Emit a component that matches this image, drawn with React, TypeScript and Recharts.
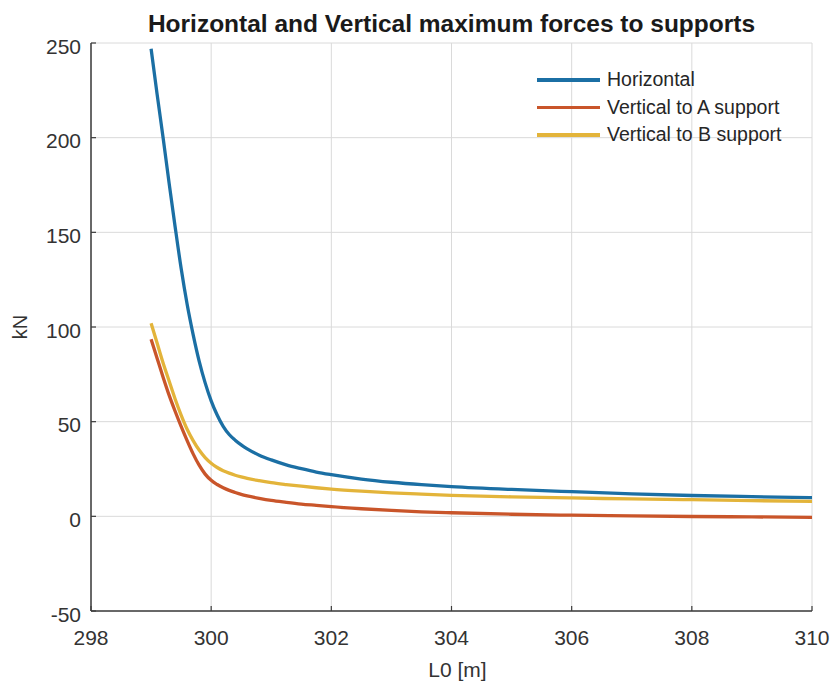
import React from 'react';
import {
  LineChart,
  Line,
  XAxis,
  YAxis,
  CartesianGrid,
  Legend,
} from 'recharts';

// L0 [m] sample positions
const L0 = [
  299.0, 299.1, 299.2, 299.3, 299.4, 299.5, 299.6, 299.7, 299.8, 299.9,
  300.0, 300.1, 300.2, 300.3, 300.4, 300.5, 300.6, 300.8, 301.0, 301.25,
  301.5, 301.75, 302.0, 302.5, 303.0, 303.5, 304.0, 305.0, 306.0, 307.0,
  308.0, 309.0, 310.0,
];

// Horizontal force [kN]
const horizontal = [
  247, 223, 200, 176, 153, 131, 112, 96, 82, 70.5,
  61, 53.5, 47.5, 43.2, 40.2, 37.7, 35.6, 32.3, 29.8, 27.2,
  25.2, 23.4, 22, 19.7, 18, 16.7, 15.7, 14.2, 13.0, 11.9,
  11.0, 10.4, 9.9,
];

// Vertical force to A support [kN]
const verticalA = [
  93.5, 83.5, 73.5, 64, 55.5, 47.5, 40, 33, 27, 22.3,
  19, 16.8, 15.1, 13.7, 12.6, 11.6, 10.8, 9.5, 8.4, 7.4,
  6.5, 5.8, 5.1, 4.0, 3.1, 2.4, 1.9, 1.1, 0.6, 0.2,
  -0.1, -0.3, -0.5,
];

// Vertical force to B support [kN]
const verticalB = [
  102, 91.5, 81, 71.5, 62, 53.5, 46, 40, 35, 31,
  28, 25.8, 24.1, 22.8, 21.7, 20.8, 20.0, 18.8, 17.8, 16.8,
  15.9, 15.1, 14.4, 13.3, 12.4, 11.7, 11.1, 10.3, 9.7, 9.2,
  8.8, 8.3, 7.9,
];

const xTicks = [298, 300, 302, 304, 306, 308, 310];
const yTicks = [-50, 0, 50, 100, 150, 200, 250];

const seriesNames = ['Horizontal', 'Vertical to A support', 'Vertical to B support'];
const seriesColors = ['#1b6fa4', '#c9552a', '#e3b43a'];

const data = L0.map((x, i) => ({
  x,
  h: horizontal[i],
  a: verticalA[i],
  b: verticalB[i],
}));

const FONT = '"Liberation Sans", Arial, Helvetica, sans-serif';
const AXIS_COLOR = '#3c3c3c';
const TEXT_COLOR = '#333333';
const TICK_LEN = 5;
const X_LABEL_GAP = 19;
const Y_LABEL_GAP = 10;

const BottomTick = (props: any) => {
  const { x, y, payload } = props;
  const axisY = y - X_LABEL_GAP;
  return (
    <g>
      <line x1={x} x2={x} y1={axisY} y2={axisY - TICK_LEN} stroke={AXIS_COLOR} strokeWidth={1.2} />
      <text
        x={x}
        y={y}
        dy="0.72em"
        textAnchor="middle"
        fill={TEXT_COLOR}
        fontSize={21}
        fontFamily={FONT}
      >
        {payload.value}
      </text>
    </g>
  );
};

const LeftTick = (props: any) => {
  const { x, y, payload } = props;
  const axisX = x + Y_LABEL_GAP;
  return (
    <g>
      <line x1={axisX} x2={axisX + TICK_LEN} y1={y} y2={y} stroke={AXIS_COLOR} strokeWidth={1.2} />
      <text
        x={x}
        y={y + 3}
        dy="0.36em"
        textAnchor="end"
        fill={TEXT_COLOR}
        fontSize={21}
        fontFamily={FONT}
      >
        {payload.value}
      </text>
    </g>
  );
};

const TopTick = (props: any) => {
  const { x, y } = props;
  return <line x1={x} x2={x} y1={y} y2={y + TICK_LEN} stroke={AXIS_COLOR} strokeWidth={1.2} />;
};

const RightTick = (props: any) => {
  const { x, y } = props;
  return <line x1={x} x2={x - TICK_LEN} y1={y} y2={y} stroke={AXIS_COLOR} strokeWidth={1.2} />;
};

const LegendContent = (props: any) => {
  const payload = props.payload || [];
  return (
    <div style={{ fontFamily: FONT, fontSize: 19.5, color: '#262626' }}>
      {payload.map((p: any) => (
        <div
          key={p.value}
          style={{ display: 'flex', alignItems: 'center', height: 27.5, whiteSpace: 'nowrap' }}
        >
          <div style={{ width: 63, height: 3.5, background: p.color, marginRight: 7 }} />
          <span>{p.value}</span>
        </div>
      ))}
    </div>
  );
};

export default function App() {
  return (
    <div style={{ position: 'relative', width: 831, height: 684, background: '#fff' }}>
      <style>{`body{margin:0;background:#fff}`}</style>
      <div
        style={{
          position: 'absolute',
          left: 91,
          width: 721,
          top: 9,
          textAlign: 'center',
          fontFamily: FONT,
          fontWeight: 'bold',
          fontSize: 24.5,
          lineHeight: '30px',
          color: '#1a1a1a',
          whiteSpace: 'nowrap',
        }}
      >
        Horizontal and Vertical maximum forces to supports
      </div>
      <LineChart
        width={831}
        height={684}
        data={data}
        margin={{ top: 43, right: 19, bottom: 0, left: 0 }}
        style={{ position: 'absolute', left: 0, top: 0 }}
      >
        <CartesianGrid stroke="#dadada" strokeWidth={1} />
        <XAxis
          dataKey="x"
          type="number"
          domain={[298, 310]}
          ticks={xTicks}
          allowDataOverflow
          height={73}
          tickSize={0}
          tickMargin={X_LABEL_GAP}
          tickLine={false}
          axisLine={{ stroke: AXIS_COLOR, strokeWidth: 1.5 }}
          tick={<BottomTick />}
          label={{
            value: 'L0 [m]',
            position: 'insideBottom',
            offset: 7,
            dx: 6,
            fill: TEXT_COLOR,
            fontSize: 21,
            fontFamily: FONT,
          }}
        />
        <XAxis
          xAxisId="top"
          dataKey="x"
          type="number"
          orientation="top"
          domain={[298, 310]}
          ticks={xTicks}
          allowDataOverflow
          height={0}
          tickSize={0}
          tickMargin={0}
          tickLine={false}
          tick={<TopTick />}
          axisLine={{ stroke: AXIS_COLOR, strokeWidth: 1.5 }}
        />
        <YAxis
          type="number"
          domain={[-50, 250]}
          ticks={yTicks}
          allowDataOverflow
          width={91}
          tickSize={0}
          tickMargin={Y_LABEL_GAP}
          tickLine={false}
          axisLine={{ stroke: AXIS_COLOR, strokeWidth: 1.5 }}
          tick={<LeftTick />}
          label={{
            value: 'kN',
            angle: -90,
            position: 'insideLeft',
            offset: 20,
            fill: TEXT_COLOR,
            fontSize: 20,
            fontFamily: FONT,
            style: { textAnchor: 'middle' },
          }}
        />
        <YAxis
          yAxisId="right"
          type="number"
          orientation="right"
          domain={[-50, 250]}
          ticks={yTicks}
          allowDataOverflow
          width={0}
          tickSize={0}
          tickMargin={0}
          tickLine={false}
          tick={<RightTick />}
          axisLine={{ stroke: AXIS_COLOR, strokeWidth: 1.5 }}
        />
        <Legend
          layout="vertical"
          align="center"
          verticalAlign="middle"
          content={LegendContent}
          wrapperStyle={{ top: 66, left: 537, width: 260, right: 'auto', bottom: 'auto' }}
        />
        <Line
          dataKey="h"
          name={seriesNames[0]}
          stroke={seriesColors[0]}
          strokeWidth={3.3}
          dot={false}
          type="monotone"
          isAnimationActive={false}
        />
        <Line
          dataKey="a"
          name={seriesNames[1]}
          stroke={seriesColors[1]}
          strokeWidth={3.3}
          dot={false}
          type="monotone"
          isAnimationActive={false}
        />
        <Line
          dataKey="b"
          name={seriesNames[2]}
          stroke={seriesColors[2]}
          strokeWidth={3.3}
          dot={false}
          type="monotone"
          isAnimationActive={false}
        />
      </LineChart>
    </div>
  );
}
